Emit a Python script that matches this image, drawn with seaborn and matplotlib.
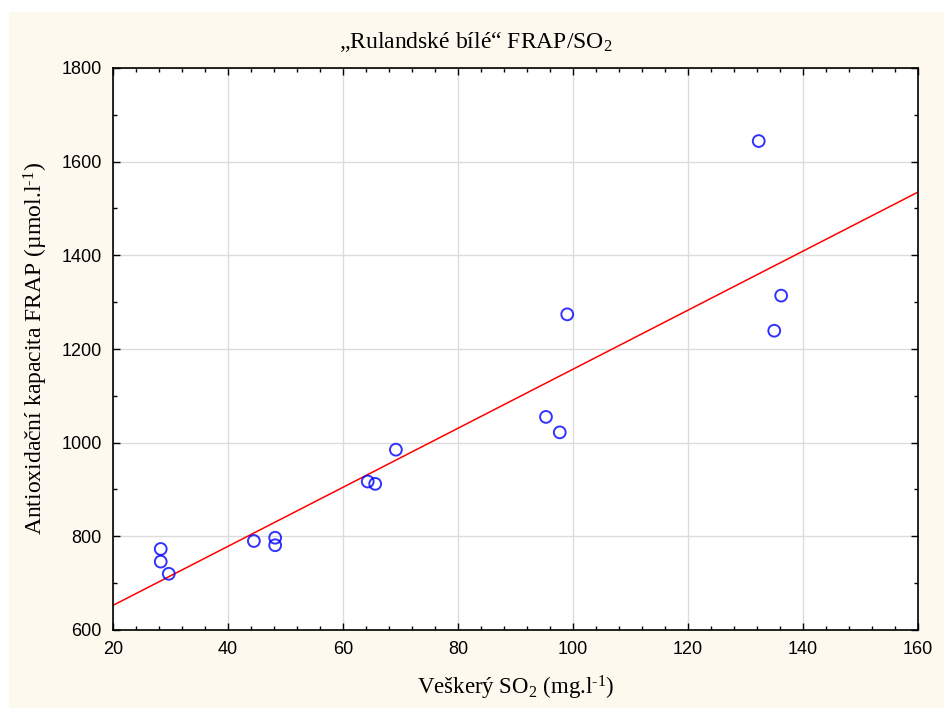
import numpy as np
import pandas as pd
import matplotlib
matplotlib.use("Agg")
import matplotlib.pyplot as plt
from matplotlib.patches import Rectangle
from matplotlib.ticker import MultipleLocator
import seaborn as sns

# Data
so2 = [28.3, 28.3, 29.7, 44.5, 48.2, 48.2, 64.3, 65.6, 69.2, 95.3, 97.7, 99.0, 132.3, 135.0, 136.2]
frap = [773, 746, 720, 790, 797, 781, 917, 912, 985, 1055, 1022, 1274, 1644, 1239, 1314]

title = "\u201eRulandsk\u00e9 b\u00edl\u00e9\u201c FRAP/SO$_2$"
xlabel = "Ve\u0161ker\u00fd SO$_2$ (mg.l$^{\\text{-1}}$)"
ylabel = "Antioxida\u010dn\u00ed kapacita FRAP (\u00b5mol.l$^{\\text{-1}}$)"
xticks = [20, 40, 60, 80, 100, 120, 140, 160]
yticks = [600, 800, 1000, 1200, 1400, 1600, 1800]

df = pd.DataFrame({"so2": so2, "frap": frap})

sns.set_theme(style="white")
plt.rcParams["mathtext.fontset"] = "custom"
plt.rcParams["mathtext.rm"] = "Liberation Serif"
plt.rcParams["mathtext.it"] = "Liberation Serif:italic"
plt.rcParams["text.color"] = "black"
plt.rcParams["axes.labelcolor"] = "black"
plt.rcParams["xtick.color"] = "black"
plt.rcParams["ytick.color"] = "black"

fig = plt.figure(figsize=(9.44, 7.08), dpi=100)
fig.patch.set_facecolor("white")
fig.patches.append(Rectangle((9 / 944, 0), 1 - 9 / 944, 1 - 12 / 708,
                             transform=fig.transFigure, facecolor="#FEF9EE",
                             edgecolor="none", zorder=-10))
ax = fig.add_axes([113 / 944, 1 - 630 / 708, (918 - 113) / 944, (630 - 68) / 708])
ax.set_facecolor("white")
ax.set_xlim(20, 160)
ax.set_ylim(600, 1800)

sns.regplot(data=df, x="so2", y="frap", ax=ax, ci=None, truncate=False,
            scatter_kws=dict(s=72, facecolors="none", edgecolors="#0000FF", linewidths=1.4, zorder=3),
            line_kws=dict(color="#FF0000", linewidth=1.1, zorder=2))
ax.set_xlim(20, 160)
ax.set_ylim(600, 1800)

ax.set_xticks(xticks)
ax.set_yticks(yticks)
ax.xaxis.set_minor_locator(MultipleLocator(4))
ax.yaxis.set_minor_locator(MultipleLocator(100))
ax.grid(True, which="major", color="#DCDCDC", linewidth=1.0, zorder=0)
ax.set_axisbelow(True)
ax.tick_params(which="both", direction="in", top=True, right=True, bottom=True, left=True,
               color="black", labelcolor="black", width=1.0)
ax.tick_params(which="major", length=5, labelsize=13, pad=8)
ax.tick_params(which="minor", length=3)
for lab in ax.get_xticklabels() + ax.get_yticklabels():
    lab.set_fontfamily("Liberation Sans")
for sp in ax.spines.values():
    sp.set_color("black")
    sp.set_linewidth(1.2)

ax.set_xlabel(xlabel, fontsize=16.5, family="Liberation Serif", labelpad=11, color="black")
ax.set_ylabel(ylabel, fontsize=17, family="Liberation Serif", labelpad=8, color="black")
fig.text(476 / 944, 1 - 42 / 708, title, ha="center", va="center",
         fontsize=17, family="Liberation Serif", color="black")

fig.savefig("out.png", dpi=100, facecolor=fig.get_facecolor())
